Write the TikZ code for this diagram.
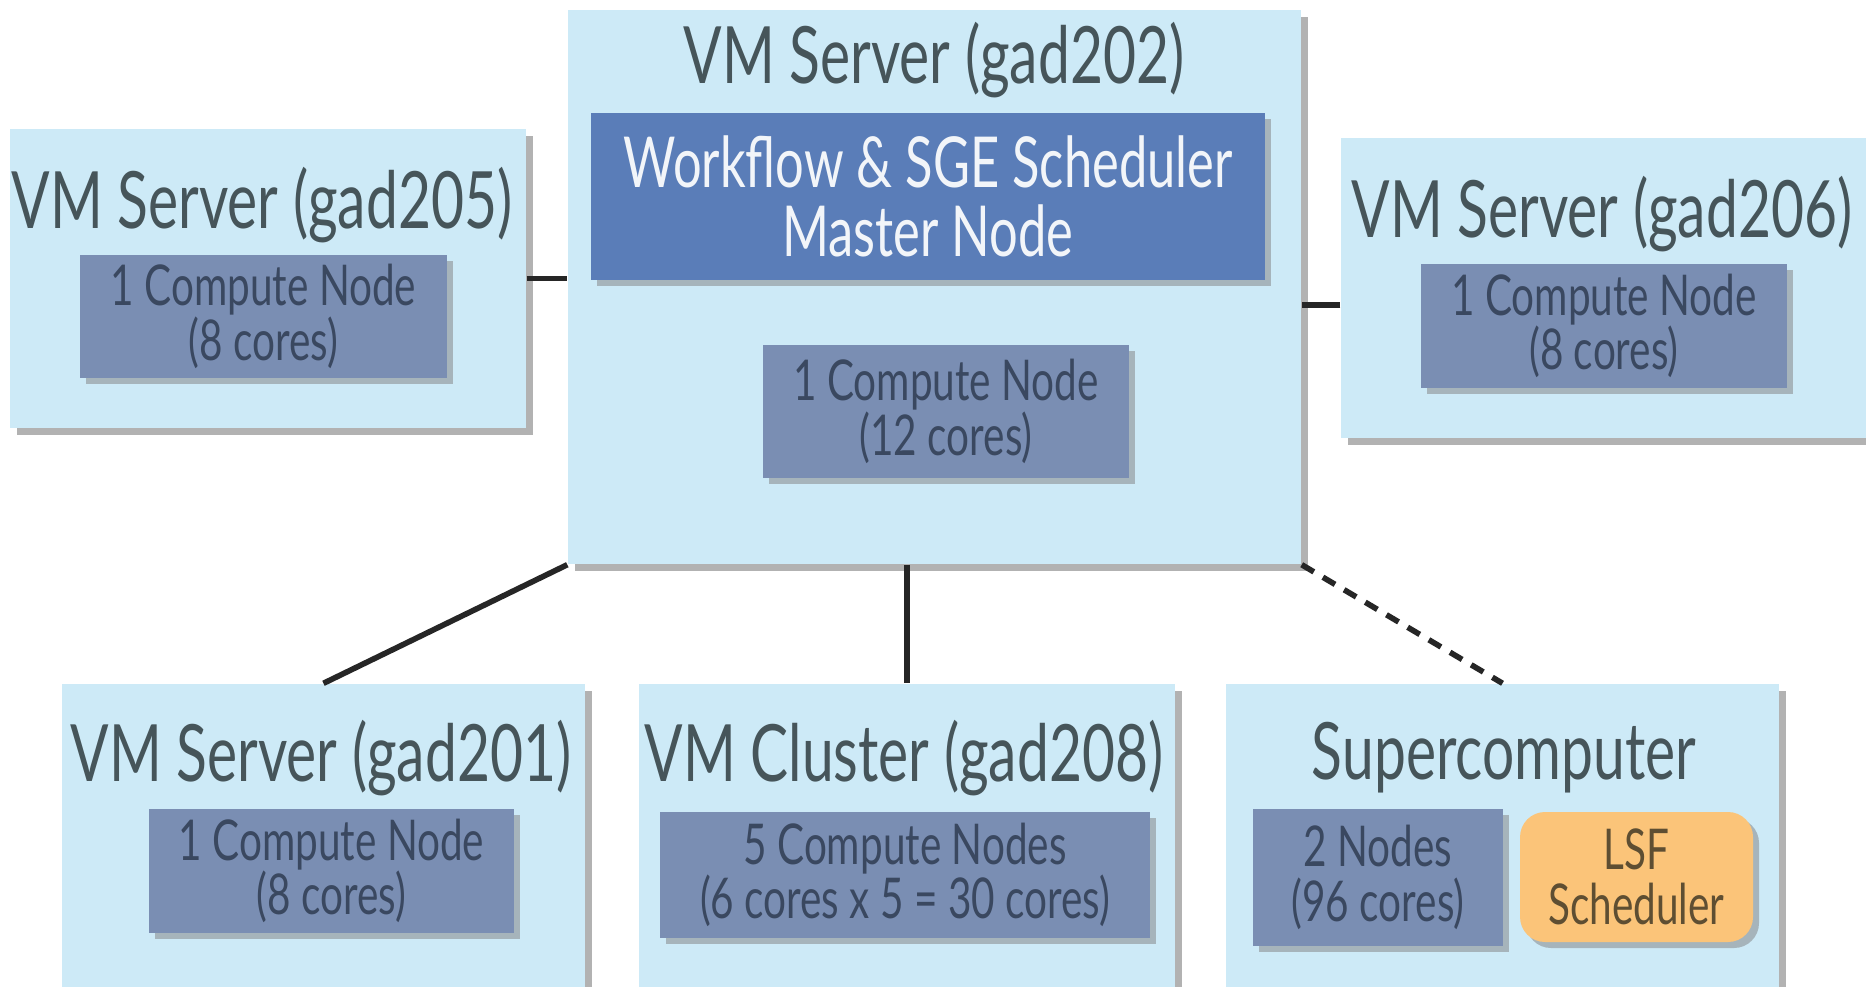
\documentclass[tikz,border=0pt]{standalone}
\usepackage{fontspec}
\setmainfont{Lato}[FakeStretch=0.72]
\usepackage{xcolor}
\usepackage{tikz}
\usetikzlibrary{shadows,positioning,calc}

\definecolor{srvblue}{HTML}{CDEAF7}
\definecolor{cpublue}{HTML}{7A8EB3}
\definecolor{mstblue}{HTML}{5A7DB8}
\definecolor{lsforange}{HTML}{FBC479}
\definecolor{titlegray}{HTML}{46555A}
\definecolor{cputext}{HTML}{3A4860}
\definecolor{lsftext}{HTML}{5E4E32}

\tikzset{
  server/.style={fill=srvblue, draw=none, inner sep=0pt,
    drop shadow={shadow xshift=0.07cm, shadow yshift=-0.07cm, opacity=0.6}},
  srvtitle/.style={text=titlegray, inner sep=0pt, font=\fontsize{22.5}{26}\selectfont},
  cpubox/.style={fill=cpublue, draw=none, text=cputext, align=center, inner sep=0pt,
    font=\fontsize{16}{15.5}\selectfont,
    drop shadow={shadow xshift=0.06cm, shadow yshift=-0.06cm, opacity=0.5}},
  master/.style={fill=mstblue, draw=none, text=white!92!mstblue, align=center, inner sep=0pt,
    font=\fontsize{20}{19.5}\selectfont,
    drop shadow={shadow xshift=0.06cm, shadow yshift=-0.06cm, opacity=0.5}},
  lsfbox/.style={fill=lsforange, draw=none, text=lsftext, align=center, inner sep=0pt,
    rounded corners=0.25cm, font=\fontsize{16}{15.5}\selectfont,
    drop shadow={shadow xshift=0.06cm, shadow yshift=-0.06cm, opacity=0.5}},
  link/.style={line width=1.6pt, black!85},
}

\begin{document}
\begin{tikzpicture}
\clip (0,0) rectangle (18.66,9.86);
\fill[white] (0,0) rectangle (18.66,9.86);

% Servers
\node[server, minimum width=7.33cm, minimum height=5.54cm] (s202) at (9.345,6.99) {};
\node[server, minimum width=5.16cm, minimum height=2.99cm] (s205) at (2.68,7.075) {};
\node[server, minimum width=5.29cm, minimum height=3.00cm] (s206) at (16.055,6.98) {};
\node[server, minimum width=5.23cm, minimum height=3.16cm] (s201) at (3.235,1.44) {};
\node[server, minimum width=5.36cm, minimum height=3.16cm] (s208) at (9.07,1.44) {};
\node[server, minimum width=5.53cm, minimum height=3.16cm] (sup) at (15.025,1.44) {};

% Server titles
\node[srvtitle] (t202) at (9.34,9.26) {VM Server (gad202)};
\node[srvtitle] (t205) at (2.62,7.81) {VM Server (gad205)};
\node[srvtitle] (t206) at (16.02,7.72) {VM Server (gad206)};
\node[srvtitle] (t201) at (3.21,2.28) {VM Server (gad201)};
\node[srvtitle] (t208) at (9.04,2.28) {VM Cluster (gad208)};
\node[srvtitle] (tsup) at (15.04,2.28) {Supercomputer};

% Master node and compute nodes
\node[master, minimum width=6.74cm, minimum height=1.67cm] (wf) at (9.28,7.895)
  {Workflow \& SGE Scheduler\\Master Node};
\node[cpubox, minimum width=3.66cm, minimum height=1.33cm] (c202) at (9.46,5.745)
  {1 Compute Node\\(12 cores)};
\node[cpubox, minimum width=3.67cm, minimum height=1.23cm] (c205) at (2.635,6.695)
  {1 Compute Node\\(8 cores)};
\node[cpubox, minimum width=3.66cm, minimum height=1.24cm] (c206) at (16.04,6.60)
  {1 Compute Node\\(8 cores)};
\node[cpubox, minimum width=3.65cm, minimum height=1.24cm] (c201) at (3.315,1.15)
  {1 Compute Node\\(8 cores)};
\node[cpubox, minimum width=4.90cm, minimum height=1.26cm] (c208) at (9.05,1.11)
  {5 Compute Nodes\\(6 cores x 5 = 30 cores)};
\node[cpubox, minimum width=2.50cm, minimum height=1.37cm] (n2) at (13.78,1.085)
  {2 Nodes\\(96 cores)};
\node[lsfbox, minimum width=2.33cm, minimum height=1.30cm] (lsf) at (16.365,1.09)
  {LSF\\Scheduler};

% Links
\draw[link] (s205.east) -- (s205.east -| s202.west);
\draw[link] ([yshift=-0.17cm]s206.west) -- ([yshift=-0.17cm]s206.west -| s202.east);
\draw[link] (s202.south west) -- (s201.north);
\draw[link] (s208.north |- s202.south) -- (s208.north);
\draw[link, dash pattern=on 4pt off 3pt] (s202.south east) -- (sup.north);
\end{tikzpicture}
\end{document}
